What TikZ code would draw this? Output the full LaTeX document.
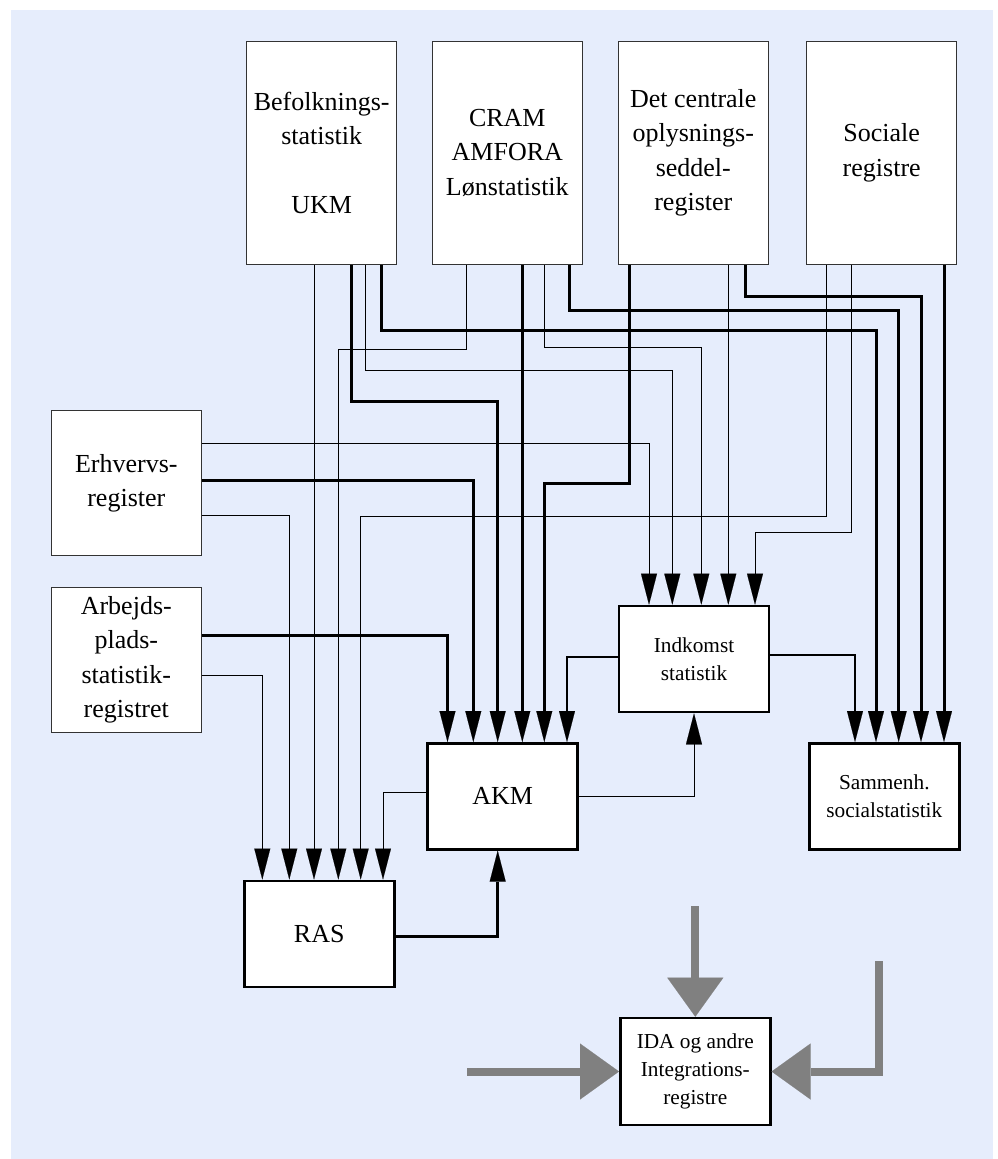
\documentclass[tikz,border=0pt]{standalone}
\usepackage{fontspec}
\setmainfont{Liberation Serif}
\usetikzlibrary{arrows.meta}
\definecolor{bgblue}{RGB}{230,237,252}
\definecolor{arrowgray}{RGB}{128,128,128}
\begin{document}
\begin{tikzpicture}[x=1pt,y=-1pt,
  srcbox/.style={draw=black!80, line width=1.2pt, fill=white, minimum width=150pt, inner sep=0pt, align=center, font=\fontsize{26}{34.5}\selectfont},
  procbox/.style={draw=black, line width=2.6pt, fill=white, minimum width=150pt, minimum height=106pt, inner sep=0pt, align=center},
  bigtxt/.style={font=\fontsize{26}{34.5}\selectfont},
  smalltxt/.style={font=\fontsize{21.3}{27.7}\selectfont},
  thinln/.style={line width=1pt, draw=black},
  medln/.style={line width=1.8pt, draw=black},
  thickln/.style={line width=3pt, draw=black},
  arrowed/.style={-{Triangle[length=31pt,width=16pt,line width=0.1pt]}},
  bigarrow/.style={line width=8pt, draw=arrowgray, -{Triangle[length=39pt,width=56pt,line width=0.1pt]}}
]
\useasboundingbox (0,0) rectangle (997,1159);
\fill[bgblue] (11,10) rectangle (993,1159);

% source boxes
\node[srcbox, minimum height=223pt] (Bef) at (321.7,152.8) {Befolknings-\\statistik\\\mbox{}\\UKM};
\node[srcbox, minimum height=223pt] (CRAM) at (507.3,152.8) {CRAM\\AMFORA\\Lønstatistik};
\node[srcbox, minimum height=223pt] (Det) at (693.3,152.8) {Det centrale\\oplysnings-\\seddel-\\register};
\node[srcbox, minimum height=223pt] (Soc) at (881.7,152.8) {Sociale\\registre};
\node[srcbox, minimum height=145pt] (Erh) at (126.3,483.3) {Erhvervs-\\register};
\node[srcbox, minimum height=145pt] (Arb) at (126.3,659.8) {Arbejds-\\plads-\\statistik-\\registret};

% process boxes
\node[procbox, bigtxt] (AKM) at (502.7,796.3) {AKM};
\node[procbox, bigtxt] (RAS) at (319.2,933.8) {RAS};
\node[procbox, smalltxt] (Ind) at (694,659) {Indkomst\\statistik};
\node[procbox, smalltxt] (Sam) at (884.3,796.3) {Sammenh.\\socialstatistik};
\node[procbox, smalltxt, minimum height=107pt] (IDA) at (695.3,1071.5) {IDA og andre\\Integrations-\\registre};

% Befolkningsstatistik
\draw[thinln, arrowed] ([xshift=-7.7pt]Bef.south) -| ([xshift=-5.2pt]RAS.north);
\draw[thickln, arrowed] ([xshift=30pt]Bef.south) -- ++(0,136.4) -| ([xshift=-5pt]AKM.north);
\draw[thinln, arrowed] ([xshift=43.6pt]Bef.south) -- ++(0,105.7) -| ([xshift=-21.7pt]Ind.north);
\draw[thickln, arrowed] ([xshift=59.6pt]Bef.south) -- ++(0,65.7) -| ([xshift=-8.3pt]Sam.north);

% CRAM
\draw[thinln, arrowed] ([xshift=-40.6pt]CRAM.south) -- ++(0,84.7) -| ([xshift=19.1pt]RAS.north);
\draw[thickln, arrowed] ([xshift=15pt]CRAM.south) -| ([xshift=19.6pt]AKM.north);
\draw[thinln, arrowed] ([xshift=37pt]CRAM.south) -- ++(0,83) -| ([xshift=7.3pt]Ind.north);
\draw[thickln, arrowed] ([xshift=62pt]CRAM.south) -- ++(0,45.7) -| ([xshift=14.4pt]Sam.north);

% Det centrale
\draw[thickln, arrowed] ([xshift=-64pt]Det.south) -- ++(0,219) -| ([xshift=41.6pt]AKM.north);
\draw[thinln, arrowed] ([xshift=35pt]Det.south) -| ([xshift=34.3pt]Ind.north);
\draw[thickln, arrowed] ([xshift=52.4pt]Det.south) -- ++(0,31.7) -| ([xshift=36.7pt]Sam.north);

% Sociale registre
\draw[thinln, arrowed] ([xshift=-55pt]Soc.south) -- ++(0,251.4) -| ([xshift=41.5pt]RAS.north);
\draw[thinln, arrowed] ([xshift=-30pt]Soc.south) -- ++(0,267.4) -| ([xshift=61pt]Ind.north);
\draw[thickln, arrowed] ([xshift=62.3pt]Soc.south) -| ([xshift=59.7pt]Sam.north);

% Erhvervsregister
\draw[thinln, arrowed] ([yshift=40pt]Erh.east) -| ([xshift=-45pt]Ind.north);
\draw[thickln, arrowed] ([yshift=3.3pt]Erh.east) -| ([xshift=-29.4pt]AKM.north);
\draw[thinln, arrowed] ([yshift=-32.4pt]Erh.east) -| ([xshift=-29.9pt]RAS.north);

% Arbejdspladsstatistik
\draw[thickln, arrowed] ([yshift=24.8pt]Arb.east) -| ([xshift=-55.2pt]AKM.north);
\draw[thinln, arrowed] ([yshift=-15.9pt]Arb.east) -| ([xshift=-56.9pt]RAS.north);

% between process boxes
\draw[thinln, arrowed] ([yshift=3.6pt]AKM.west) -| ([xshift=63.8pt]RAS.north);
\draw[thinln, arrowed] ([yshift=-0.4pt]AKM.east) -| (Ind.south);
\draw[medln, arrowed] ([yshift=2pt]Ind.west) -| ([xshift=64.3pt]AKM.north);
\draw[medln, arrowed] ([yshift=4pt]Ind.east) -| ([xshift=-29.3pt]Sam.north);
\draw[thickln, arrowed] ([yshift=-2.2pt]RAS.east) -| ([xshift=-5pt]AKM.south);

% grey arrows into IDA
\coordinate (gtop) at (695.3,906);
\coordinate (gleft) at (467.3,1071.5);
\coordinate (gright) at (879,961);
\draw[bigarrow] (gtop) -- (IDA.north);
\draw[bigarrow] (gleft) -- (IDA.west);
\draw[bigarrow] (gright) |- (IDA.east);
\end{tikzpicture}
\end{document}
